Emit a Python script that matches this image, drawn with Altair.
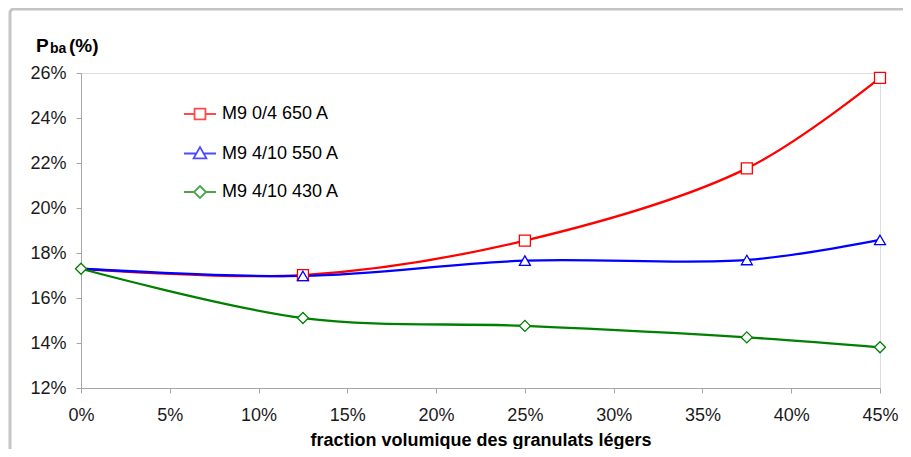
import altair as alt
import pandas as pd

# ---- data ----
fractions = [0, 12.5, 25, 37.5, 45]
series_names = ["M9 0/4 650 A", "M9 4/10 550 A", "M9 4/10 430 A"]
red_vals = [17.3, 17.02, 18.55, 21.76, 25.78]
blue_vals = [17.3, 16.98, 17.66, 17.69, 18.58]
green_vals = [17.3, 15.11, 14.76, 14.25, 13.81]
marker_shown = [
    [False, True, True, True, True],
    [False, True, True, True, True],
    [True, True, True, True, True],
]
colors = ["#ff0000", "#0000ff", "#008000"]
x_ticks = [0, 5, 10, 15, 20, 25, 30, 35, 40, 45]
y_ticks = [12, 14, 16, 18, 20, 22, 24, 26]
x_title = "fraction volumique des granulats légers"

rows = []
for name, vals, marks in zip(series_names, [red_vals, blue_vals, green_vals], marker_shown):
    for f, v, m in zip(fractions, vals, marks):
        rows.append({"x": f, "y": v, "series": name, "marker": m})
df = pd.DataFrame(rows)

FONT = "Liberation Sans"
AXIS_GRAY = "#a6a6a6"

x_enc = alt.X(
    "x:Q",
    scale=alt.Scale(domain=[0, 45], nice=False, zero=False),
    axis=alt.Axis(
        values=x_ticks, labelExpr="datum.value + '%'", title=x_title, grid=False,
        labelFontSize=18, labelFont=FONT, labelColor="#1a1a1a", labelPadding=13,
        labelFlush=False, labelOverlap=False,
        tickSize=5, tickColor=AXIS_GRAY, domainColor=AXIS_GRAY,
        titleFont=FONT, titleFontSize=18, titleFontWeight="bold", titleColor="#000000",
        titlePadding=7,
    ),
)
y_enc = alt.Y(
    "y:Q",
    scale=alt.Scale(domain=[12, 26], nice=False, zero=False),
    axis=alt.Axis(
        values=y_ticks, labelExpr="datum.value + '%'", title=None, grid=False,
        labelFontSize=18, labelFont=FONT, labelColor="#1a1a1a", labelPadding=10,
        labelFlush=False, labelOverlap=False,
        tickSize=5, tickColor=AXIS_GRAY, domainColor=AXIS_GRAY,
    ),
)
color_scale = alt.Scale(domain=series_names, range=colors)

frame = alt.Chart(pd.DataFrame({"k": [0]})).mark_rect(
    fillOpacity=0, stroke="#c4c4c4", strokeWidth=3, cornerRadius=4
).encode(x=alt.value(-71), x2=alt.value(900), y=alt.value(-64), y2=alt.value(460))

lines = alt.Chart(df).mark_line(interpolate="catmull-rom", strokeWidth=2.3).encode(
    x=x_enc, y=y_enc,
    color=alt.Color("series:N", scale=color_scale, legend=None),
)

points = alt.Chart(df).transform_filter("datum.marker").mark_point(
    filled=False, fill="white", size=121, strokeWidth=1.3, opacity=1
).encode(
    x=x_enc, y=y_enc,
    color=alt.Color("series:N", scale=color_scale, legend=None),
    shape=alt.Shape("series:N", scale=alt.Scale(domain=series_names,
                    range=["square", "triangle-up", "diamond"]), legend=None),
)

legend_paths = [
    "M-1,0H-0.34M0.34,0H1M-0.34,-0.34H0.34V0.34H-0.34Z",
    "M-1,0H-0.23M0.23,0H1M0,-0.4L0.4,0.3H-0.4Z",
    "M-1,0H-0.375M0.375,0H1M0,-0.375L0.375,0L0,0.375L-0.375,0Z",
]
leg = alt.Legend(
    orient="none", legendX=102, legendY=24, title=None, padding=0,
    labelFont=FONT, labelFontSize=18, labelColor="#000000", labelOffset=5,
    rowPadding=12.5, symbolSize=1024, symbolStrokeWidth=1.8,
)
legend_layer = alt.Chart(df).transform_filter("false").mark_point(
    filled=False, size=1024, strokeWidth=1.8
).encode(
    x=x_enc, y=y_enc,
    color=alt.Color("series:N", scale=color_scale, legend=leg),
    shape=alt.Shape("series:N", scale=alt.Scale(domain=series_names, range=legend_paths),
                    legend=leg),
)

title_df = pd.DataFrame({"k": [0]})
t_p = alt.Chart(title_df).mark_text(
    text="P", font=FONT, fontSize=19, fontWeight="bold", align="left", baseline="alphabetic", color="#000"
).encode(x=alt.value(-45), y=alt.value(-21))
t_ba = alt.Chart(title_df).mark_text(
    text="ba", font=FONT, fontSize=14, fontWeight="bold", align="left", baseline="alphabetic", color="#000"
).encode(x=alt.value(-31), y=alt.value(-20))
t_pct = alt.Chart(title_df).mark_text(
    text="(%)", font=FONT, fontSize=19, fontWeight="bold", align="left", baseline="alphabetic", color="#000"
).encode(x=alt.value(-12), y=alt.value(-21))

chart = alt.layer(frame, lines, points, legend_layer, t_p, t_ba, t_pct).resolve_scale(
    color="independent", shape="independent"
).properties(
    width=799, height=315,
    autosize=alt.AutoSizeParams(type="none"),
    padding={"left": 73, "top": 65, "right": 23, "bottom": 61},
).configure_view(stroke=None).configure(background="white")

chart.save("out.html", embed_options={"renderer": "svg", "actions": False})
